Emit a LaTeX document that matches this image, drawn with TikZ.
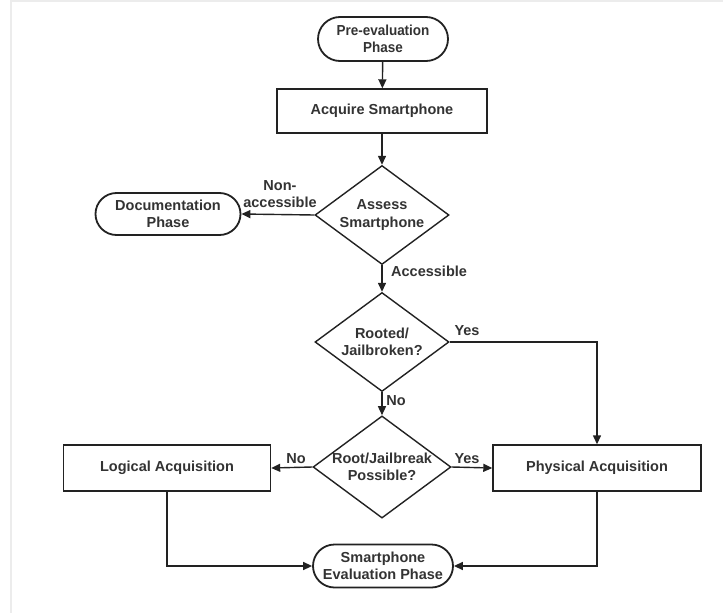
\documentclass[tikz,border=0pt]{standalone}
\usepackage{fontspec}
\usepackage{graphicx}
\setmainfont{Liberation Sans}
\newcommand{\narrowtxt}[1]{\scalebox{0.93}[1]{#1}}
\usetikzlibrary{shapes.geometric,shapes.misc,arrows.meta}
\definecolor{ink}{HTML}{222222}
\definecolor{txt}{HTML}{333333}
\definecolor{frame}{HTML}{ECECEC}
\begin{document}
\begin{tikzpicture}[x=1pt,y=-1pt,
  every node/.style={font=\bfseries\fontsize{14.5}{17.5}\selectfont, text=txt, align=center},
  term/.style={draw=ink, line width=1.8pt, rounded rectangle, minimum width=#1, minimum height=44pt, inner sep=0pt},
  proc/.style={draw=ink, line width=1.4pt, rectangle, minimum width=#1, minimum height=44pt, inner sep=0pt},
  dec/.style={draw=ink, line width=1.4pt, diamond, minimum width=134pt, minimum height=99pt, inner sep=0pt, aspect=1.35},
  conn/.style={draw=ink, line width=1.4pt, -{Triangle[length=9pt,width=8pt]}},
  lbl/.style={inner sep=1pt}
]
\useasboundingbox (0,0) rectangle (723,613);
\fill[white] (0,0) rectangle (723,613);
\draw[frame, line width=1.5pt] (11,613) -- (11,1) -- (723,1);

\node[term=130pt] (pre) at (383,39) {\narrowtxt{Pre-evaluation}\\\narrowtxt{Phase}};
\node[proc=210pt] (acq) at (382,111) {Acquire Smartphone};
\node[dec] (assess) at (382,215) {Assess\\Smartphone};
\node[term=145pt, minimum height=42pt] (doc) at (168,214) {Documentation\\Phase};
\node[dec] (rooted) at (382,342) {Rooted/\\Jailbroken?};
\node[dec] (possible) at (382,467) {Root/Jailbreak\\Possible?};
\node[proc=207pt, minimum height=46pt] (logical) at (167,468) {Logical Acquisition};
\node[proc=208pt, minimum height=46pt] (physical) at (597,468) {Physical Acquisition};
\node[term=140pt, minimum height=43pt] (eval) at (383,566) {Smartphone\\Evaluation Phase};

\draw[conn] (pre) -- (acq);
\draw[conn] (acq) -- (assess);
\draw[conn] (assess.west) -- (doc.east);
\draw[conn] (assess.south) -- (rooted.north);
\draw[conn] (rooted.south) -- (possible.north);
\draw[conn] (rooted.east) -| (physical.north);
\draw[conn] (possible.west) -- (logical.east);
\draw[conn] (possible.east) -- (physical.west);
\draw[conn] (logical.south) |- (eval.west);
\draw[conn] (physical.south) |- (eval.east);

\node[lbl] (lnon) at (280,194) {Non-\\accessible};
\node[lbl, anchor=west] (lacc) at (390,271) {Accessible};
\node[lbl] (lyes1) at (467,331) {Yes};
\node[lbl] (lno1) at (396,401) {No};
\node[lbl] (lno2) at (296,459) {No};
\node[lbl] (lyes2) at (467,459) {Yes};
\end{tikzpicture}
\end{document}
